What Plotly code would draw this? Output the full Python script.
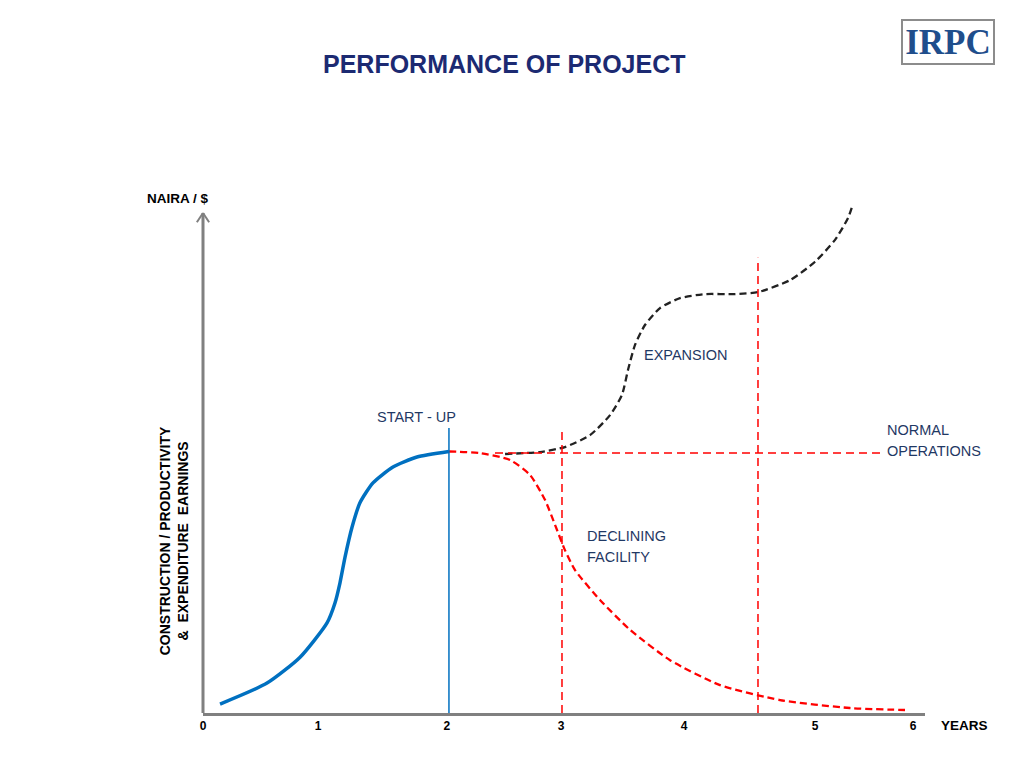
import plotly.graph_objects as go

# tick labels (positions along the years axis, as drawn)
year_ticks = [0, 0.972, 2.061, 3.025, 4.064, 5.171, 6.0]
year_labels = ["0", "1", "2", "3", "4", "5", "6"]

# construction / start-up curve (solid blue)
build_x = [0.144, 0.541, 0.820, 1.048, 1.115, 1.157, 1.200, 1.259, 1.326, 1.436, 1.605, 1.808, 2.078]
build_y = [0.18, 0.60, 1.12, 1.81, 2.21, 2.61, 3.13, 3.73, 4.22, 4.62, 4.94, 5.14, 5.25]

# declining facility curve (red dashed)
decline_x = [2.078, 2.34, 2.594, 2.763, 2.889, 2.974, 3.058, 3.143, 3.354, 3.608, 3.946, 4.368, 4.875, 5.466, 5.931]
decline_y = [5.25, 5.22, 5.08, 4.78, 4.28, 3.78, 3.27, 2.87, 2.27, 1.67, 1.06, 0.56, 0.26, 0.10, 0.06]

# expansion curve (black dashed)
expand_x = [2.552, 2.847, 3.058, 3.27, 3.439, 3.54, 3.591, 3.65, 3.734, 3.861, 4.03, 4.241, 4.495, 4.689, 4.959, 5.171, 5.34, 5.45, 5.483]
expand_y = [5.20, 5.24, 5.34, 5.58, 5.98, 6.39, 6.89, 7.39, 7.79, 8.13, 8.33, 8.41, 8.41, 8.45, 8.69, 9.06, 9.50, 9.94, 10.16]

# normal operations level and marker lines
normal_x = [2.467, 5.72]
normal_y = 5.22
startup_x = 2.078
startup_top = 5.72
markers_x = [3.033, 4.689]
markers_top = [5.72, 9.14]
axis_top = 10.04
y_max = 10.3

BLUE = "#0070C0"
RED = "#FF0000"
NAVY = "#1F3864"
GREY = "#808080"
DASH = "7px,4px"

fig = go.Figure()

fig.add_trace(go.Scatter(x=build_x, y=build_y, mode="lines",
                         line=dict(color=BLUE, width=3.5, shape="spline", smoothing=0.6)))
fig.add_trace(go.Scatter(x=decline_x, y=decline_y, mode="lines",
                         line=dict(color=RED, width=2.3, dash=DASH, shape="spline", smoothing=0.6)))
fig.add_trace(go.Scatter(x=expand_x, y=expand_y, mode="lines",
                         line=dict(color="#222222", width=2.3, dash=DASH, shape="spline", smoothing=0.6)))
fig.add_trace(go.Scatter(x=normal_x, y=[normal_y, normal_y], mode="lines",
                         line=dict(color=RED, width=1.5, dash="8px,5px")))
fig.add_trace(go.Scatter(x=[startup_x, startup_x], y=[0, startup_top], mode="lines",
                         line=dict(color=BLUE, width=1.5)))
for mx, mt in zip(markers_x, markers_top):
    fig.add_trace(go.Scatter(x=[mx, mx], y=[0, mt], mode="lines",
                             line=dict(color=RED, width=1.5, dash="8px,5px")))

# y axis with open arrow head (paper coords so it is not clipped)
top = axis_top / y_max
fig.add_shape(type="line", xref="paper", yref="paper", x0=0, x1=0, y0=0, y1=top,
              line=dict(color=GREY, width=3))
fig.add_shape(type="line", xref="paper", yref="paper", x0=-0.0085, x1=0, y0=top - 0.018, y1=top,
              line=dict(color=GREY, width=2))
fig.add_shape(type="line", xref="paper", yref="paper", x0=0.0085, x1=0, y0=top - 0.018, y1=top,
              line=dict(color=GREY, width=2))

label_font = dict(family="Liberation Sans, Arial", size=14.5, color=NAVY)
notes = [
    ("START - UP", 1.80, 5.94, "center"),
    ("EXPANSION", 4.081, 7.19, "center"),
    ("NORMAL", 5.762, 5.68, "left"),
    ("OPERATIONS", 5.762, 5.26, "left"),
    ("DECLINING", 3.227, 3.55, "left"),
    ("FACILITY", 3.227, 3.13, "left"),
]
for txt, x, y, al in notes:
    fig.add_annotation(x=x, y=y, text=txt, showarrow=False, font=label_font,
                       xanchor=al, yanchor="middle")

bold = dict(family="Liberation Sans, Arial", size=13.5, color="black", weight="bold")
fig.add_annotation(xref="paper", yref="paper", x=-0.036, y=1.003, xanchor="center", yanchor="middle",
                   text="NAIRA / $", showarrow=False, font=bold)
fig.add_annotation(xref="paper", yref="paper", x=1.019, y=-0.025, xanchor="left", yanchor="middle",
                   text="YEARS", showarrow=False, font=bold)
fig.add_annotation(xref="paper", yref="paper", x=-0.040, y=0.335, xanchor="center", yanchor="middle",
                   textangle=-90,
                   text="CONSTRUCTION / PRODUCTIVITY<br>&  EXPENDITURE  EARNINGS",
                   showarrow=False, font=dict(bold, size=14), align="center")

# title and logo
fig.add_annotation(xref="paper", yref="paper", x=0.418, y=1.265, xanchor="center", yanchor="middle",
                   text="PERFORMANCE OF PROJECT", showarrow=False,
                   font=dict(family="Liberation Sans, Arial", size=25, color="#1C2A72", weight="bold"))
fig.add_annotation(xref="paper", yref="paper", x=1.032, y=1.308, xanchor="center", yanchor="middle",
                   text="IRPC", showarrow=False, width=86, height=38,
                   bordercolor="#8C8C8C", borderwidth=2, borderpad=2,
                   font=dict(family="Liberation Serif, Times New Roman", size=35, color="#1F4E8C", weight="bold"))

fig.update_layout(
    width=1024, height=768,
    margin=dict(l=195, r=107, t=192, b=63),
    plot_bgcolor="white", paper_bgcolor="white",
    showlegend=False,
    xaxis=dict(range=[0, 6.1], tickvals=year_ticks, ticktext=year_labels,
               showgrid=False, zeroline=False, showline=True, linecolor=GREY, linewidth=3,
               ticks="", ticklen=0, tickfont=dict(family="Liberation Sans, Arial", size=12,
                                                   color="black", weight="bold")),
    yaxis=dict(range=[0, y_max], visible=False, showgrid=False, zeroline=False),
)

fig.write_html("out.html")
